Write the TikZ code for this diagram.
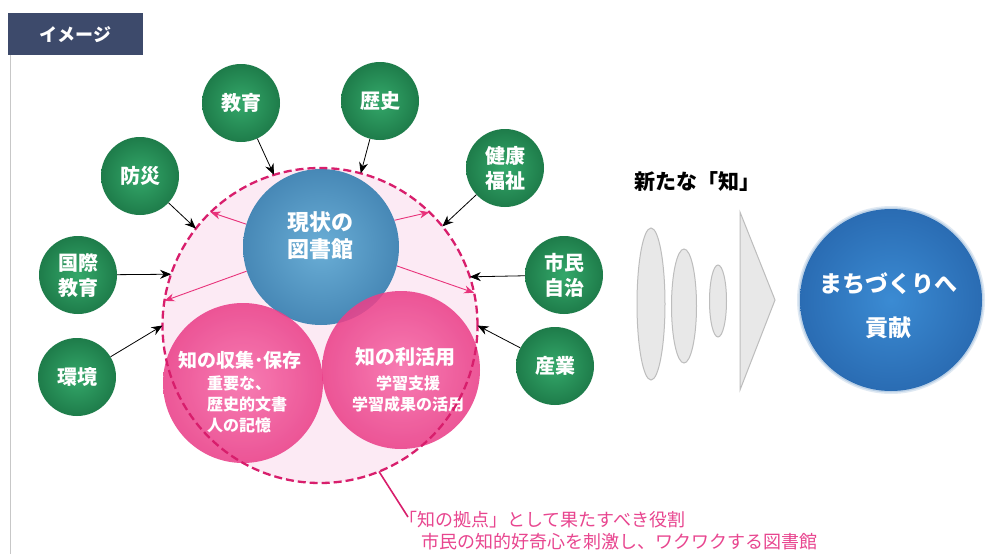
\documentclass[tikz,border=0pt]{standalone}
\usepackage{fontspec}
\newfontfamily\jp{Noto Sans CJK JP}
\usetikzlibrary{arrows.meta}
\definecolor{hdr}{HTML}{3D4A6B}
\definecolor{grnL}{HTML}{34A86A}
\definecolor{grnD}{HTML}{1E7C4A}
\definecolor{bluL}{HTML}{6AAED6}
\definecolor{bluD}{HTML}{4788B6}
\definecolor{pkL}{HTML}{F76DAA}
\definecolor{pkD}{HTML}{EA4089}
\definecolor{bgpk}{HTML}{FCEAF4}
\definecolor{dashpk}{HTML}{D81E6C}
\definecolor{arrpk}{HTML}{E8327A}
\definecolor{txtpk}{HTML}{E8458F}
\definecolor{bigL}{HTML}{3B8BD3}
\definecolor{bigD}{HTML}{2A6CB3}
\definecolor{grF}{HTML}{E8E8E8}
\definecolor{grD}{HTML}{BDBDBD}
\tikzset{
  topic/.style={circle, minimum size=78pt, inner sep=0pt, shade, inner color=grnL, outer color=grnD,
    text=white, align=center, font=\jp\bfseries\fontsize{20}{25}\selectfont},
  pinkc/.style={circle, minimum size=160pt, inner sep=0pt, shade, inner color=pkL, outer color=pkD, opacity=0.88},
  blkarrow/.style={-{Stealth[length=11pt,width=9pt]}, line width=0.8pt, black},
  pkarrow/.style={-{Stealth[length=10pt,width=8pt]}, line width=0.9pt, arrpk},
  wtitle/.style={text=white, font=\jp\bfseries\fontsize{19}{23}\selectfont, align=center, inner sep=0pt},
  wsub/.style={text=white, font=\jp\bfseries\fontsize{16}{21}\selectfont, inner sep=0pt},
  pktext/.style={text=txtpk, font=\jp\fontsize{18}{22}\selectfont, anchor=west, inner sep=0pt}
}
\begin{document}
\begin{tikzpicture}[x=1pt,y=-1pt]
\useasboundingbox (0,0) rectangle (997,554);
\fill[white] (0,0) rectangle (997,554);
% header
\draw[line width=1pt, black!22] (10,55) -- (10,554);
\node[fill=hdr, minimum width=135pt, minimum height=42pt, inner sep=0pt, anchor=north west,
  text=white, font=\jp\bfseries\fontsize{18}{22}\selectfont] (hdr) at (8,13) {イメージ};
% big dashed circle background
\fill[bgpk] (320,325.5) circle (157.5);
% current library
\node[circle, minimum size=156pt, inner sep=0pt, shade, inner color=bluL, outer color=bluD] (cur) at (321,247) {};
\node[text=white, font=\jp\bfseries\fontsize{22}{27}\selectfont, align=left, inner sep=0pt] (curt) at (320,236) {現状の\\図書館};
% pink circles
\node[pinkc] (coll) at (243,383) {};
\node[pinkc, minimum size=158pt] (use) at (401,370) {};
\node[wtitle] (collt) at (240,360) {知の収集･保存};
\node[wsub, align=left, anchor=north west] (colls) at (207,376) {重要な、\\歴史的文書\\人の記憶};
\node[wtitle, font=\jp\bfseries\fontsize{20}{24}\selectfont] (uset) at (405,357) {知の利活用};
\node[wsub, align=center, anchor=north] (uses) at (408,376) {学習支援\\学習成果の活用};
% dashed boundary
\node[circle, minimum size=315pt, inner sep=0pt, outer sep=0pt, draw=dashpk, line width=2.3pt,
  dash pattern=on 8pt off 4pt] (big) at (320,325.5) {};
% green topics
\node[topic] (kyoiku) at (241,103) {教育};
\node[topic] (rekishi) at (380,101) {歴史};
\node[topic] (bosai) at (140,176) {防災};
\node[topic] (kenko) at (505,168) {健康\\福祉};
\node[topic] (kokusai) at (78,275) {国際\\教育};
\node[topic] (shimin) at (564,275) {市民\\自治};
\node[topic] (kankyo) at (77,377) {環境};
\node[topic] (sangyo) at (555,366) {産業};
% black arrows
\draw[blkarrow] (kyoiku) -- (big.107);
\draw[blkarrow] (rekishi) -- (big.75);
\draw[blkarrow] (bosai) -- (big.142);
\draw[blkarrow] (kenko) -- (big.39);
\draw[blkarrow] (kokusai) -- (big.161);
\draw[blkarrow] (shimin) -- (big.18);
\draw[blkarrow] (kankyo) -- (big.180);
\draw[blkarrow] (sangyo) -- (big.0);
% pink arrows
\draw[pkarrow] (cur.163) -- (big.134);
\draw[pkarrow] (cur.20) -- (big.46);
\draw[pkarrow] (cur.198) -- (big.171);
\draw[pkarrow] (cur.-14) -- (big.12);
% callout
\coordinate (callend) at (408,517);
\draw[line width=1.6pt, dashpk] (big.-68) -- (callend);
\node[pktext] (call1) at (399,520) {「知の拠点」として果たすべき役割};
\node[pktext] (call2) at (421,542) {市民の知的好奇心を刺激し、ワクワクする図書館};
% new knowledge
\node[font=\jp\bfseries\fontsize{21}{25}\selectfont, anchor=west, inner sep=0pt] (newk) at (634,182) {新たな「知」};
\filldraw[fill=grF, draw=grD, line width=1pt] (651,304) ellipse (14 and 76);
\filldraw[fill=grF, draw=grD, line width=1pt] (684,306) ellipse (12.5 and 57);
\filldraw[fill=grF, draw=grD, line width=1pt] (718,301) ellipse (8.5 and 36);
\filldraw[fill=grF, draw=grD, line width=1pt] (740,212) -- (775,300) -- (740,390) -- cycle;
% contribution circle
\fill[bigD, opacity=0.15] (891,300) circle (94);
\fill[bigD, opacity=0.2] (891,300) circle (92.5);
\node[circle, minimum size=182pt, inner sep=0pt, shade, inner color=bigL, outer color=bigD] (town) at (891,300) {};
\node[text=white, font=\jp\bfseries\fontsize{23}{44}\selectfont, align=center, inner sep=0pt] (townt) at (888,306) {まちづくりへ\\貢献};
\end{tikzpicture}
\end{document}
